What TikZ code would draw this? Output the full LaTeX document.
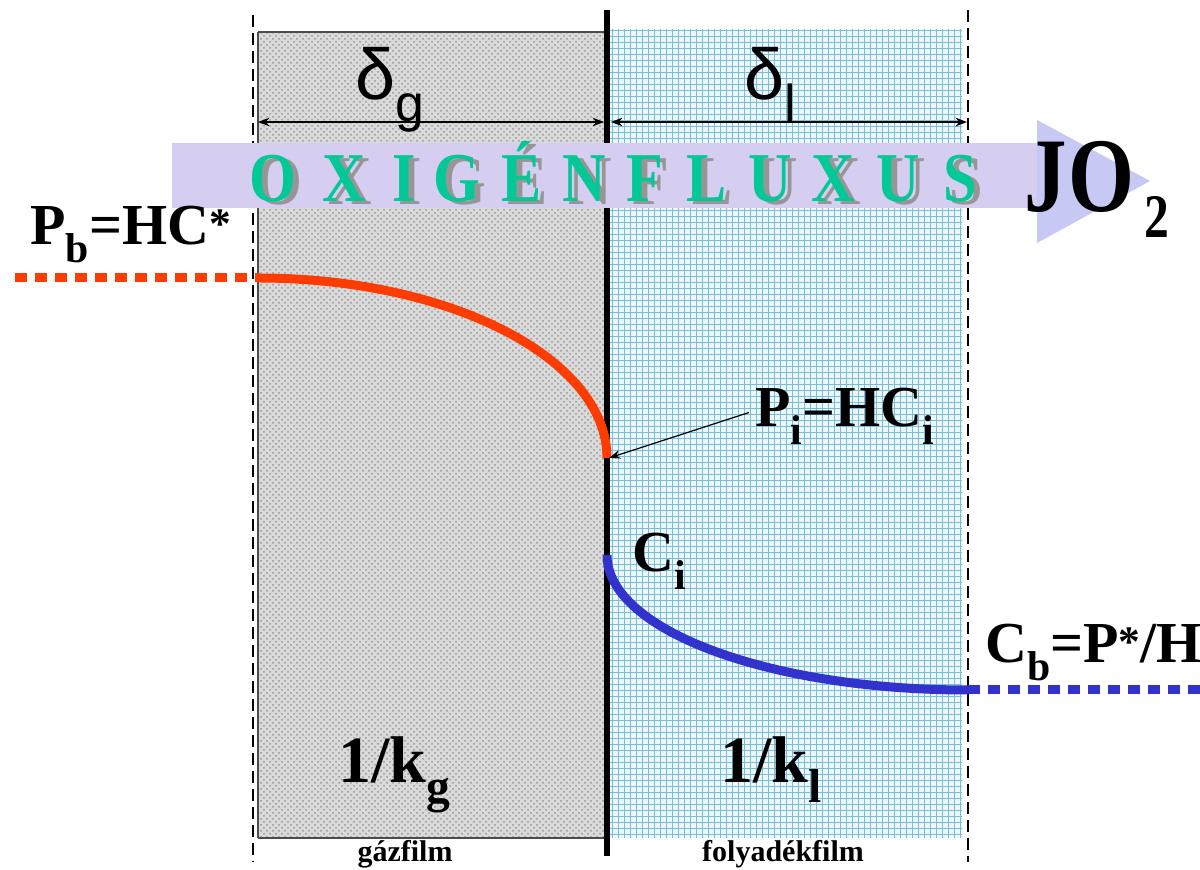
\documentclass[tikz,border=0pt]{standalone}
\usepackage{fontspec}
\setmainfont{Liberation Serif}
\newfontfamily\sansfont{Liberation Sans}
\newfontfamily\narrowfont[FakeStretch=0.86]{Liberation Serif}
\newfontfamily\jfont[FakeStretch=0.8]{Liberation Serif}
\usetikzlibrary{arrows.meta,patterns}

\definecolor{gasgray}{RGB}{218,218,218}
\definecolor{dotgray}{RGB}{150,150,150}
\definecolor{liqbg}{RGB}{236,247,252}
\definecolor{liqgrid}{RGB}{120,190,215}
\definecolor{bandlav}{RGB}{214,206,240}
\definecolor{headlav}{RGB}{200,200,245}
\definecolor{fluxgreen}{RGB}{0,200,150}
\definecolor{fluxshade}{RGB}{150,150,150}
\definecolor{pred}{RGB}{255,60,0}
\definecolor{cblue}{RGB}{50,50,205}

\newcommand{\lowtext}[1]{\raisebox{-0.3em}{\scalebox{0.72}{#1}}}
\newcommand{\hightext}[1]{\raisebox{0.12em}{\scalebox{0.75}{#1}}}

\begin{document}
\begin{tikzpicture}[
  x=0.5pt,y=-0.5pt,
  >=Stealth,
  lab/.style    ={inner sep=0pt,anchor=base west,font=\bfseries\fontsize{29}{29}\selectfont},
  reslab/.style ={inner sep=0pt,anchor=base west,font=\bfseries\fontsize{33}{33}\selectfont},
  deltalab/.style={inner sep=0pt,anchor=base,font=\sansfont\fontsize{36}{36}\selectfont},
  filmlab/.style={inner sep=0pt,anchor=base,font=\bfseries\fontsize{15}{15}\selectfont},
  fluxletter/.style={inner sep=0pt,anchor=base,text=fluxgreen,
                     font=\narrowfont\bfseries\fontsize{35}{35}\selectfont},
  fluxshadow/.style={fluxletter,text=fluxshade},
  border/.style ={draw,line width=1pt,dash pattern=on 6pt off 3pt},
  profile/.style={line width=4.5pt},
  bulk/.style   ={line width=4.5pt,dash pattern=on 6pt off 4pt},
]
\useasboundingbox (0,0) rectangle (1200,870);

%% =============================================
%% Gas film and liquid film
%% =============================================
\fill[gasgray,postaction={pattern=crosshatch dots,pattern color=dotgray}]
  (258,32) rectangle (607,838);
\draw[gray!60!black,line width=0.8pt] (258,32) -- (607,32);
\draw[gray!60!black,line width=0.8pt] (258,838) -- (607,838);
\draw[gray!60!black,line width=0.6pt] (258,32) -- (258,838);
\fill[liqbg,postaction={pattern=grid,pattern color=liqgrid}]
  (609,30) rectangle (962,838);

% film boundaries
\draw[border] (253,15) -- (253,862);
\draw[border] (968,10) -- (968,862);

% interface
\draw[line width=3pt] (607,10) -- (607,856);

%% =============================================
%% Film thickness
%% =============================================
\coordinate (gasL) at (258,122);
\coordinate (gasR) at (604,122);
\coordinate (liqL) at (611,122);
\coordinate (liqR) at (967,122);
\draw[<->,line width=0.6pt] (gasL) -- (gasR);
\draw[<->,line width=0.6pt] (liqL) -- (liqR);
\node[deltalab] (dg) at (390,100) {δ\lowtext{g}};
\node[deltalab] (dl) at (770,100) {δ\lowtext{l}};

%% =============================================
%% Oxygen flux arrow
%% =============================================
\fill[bandlav] (172,143) rectangle (1040,208);
\fill[headlav] (1037,120) -- (1150,181) -- (1037,243) -- cycle;
\foreach \ch/\cx [count=\i] in {O/273,X/344,I/404,G/457,É/522,N/584,F/645,L/707,U/770,X/833,U/898,S/960}
{
  \node[fluxshadow] (fs\i) at ({\cx+6},{205}) {\ch};
  \node[fluxletter] (fl\i) at (\cx,202) {\ch};
}
\node[inner sep=0pt,anchor=base west,font=\jfont\bfseries\fontsize{53}{53}\selectfont]
  (jo) at (1024,212) {J\kern1pt O\kern5pt\raisebox{-13pt}{\fontsize{31}{31}\selectfont 2}};

%% =============================================
%% Concentration profiles
%% =============================================
\coordinate (pb) at (258,278);
\coordinate (pi) at (607,458);
\coordinate (ci) at (607,555);
\coordinate (cb) at (968,690);
\draw[bulk,pred] (15,278) -- (pb);
\draw[profile,pred] (pb) .. controls (451,278) and (607,359) .. (pi);
\draw[profile,cblue] (ci) .. controls (607,630) and (769,690) .. (cb);
\draw[bulk,cblue] (cb) -- (1200,690);

%% =============================================
%% Labels
%% =============================================
\node[lab] (pblab) at (30,245) {P\lowtext{b}=HC\hightext{*}};
\node[lab] (pilab) at (755,427) {P\lowtext{i}=HC\lowtext{i}};
\node[lab] (cilab) at (632,572) {C\lowtext{i}};
\node[lab] (cblab) at (985,663) {C\lowtext{b}=P\hightext{*}/H};
\draw[->,line width=0.6pt] ([xshift=-3pt,yshift=2pt]pilab.west) -- ([xshift=1pt]pi);

\node[reslab] (kg) at (338,783) {1/k\lowtext{g}};
\node[reslab] (kl) at (720,783) {1/k\lowtext{l}};

\node[filmlab] (gf) at (405,862) {gázfilm};
\node[filmlab] (lf) at (783,862) {folyadékfilm};

\end{tikzpicture}
\end{document}
